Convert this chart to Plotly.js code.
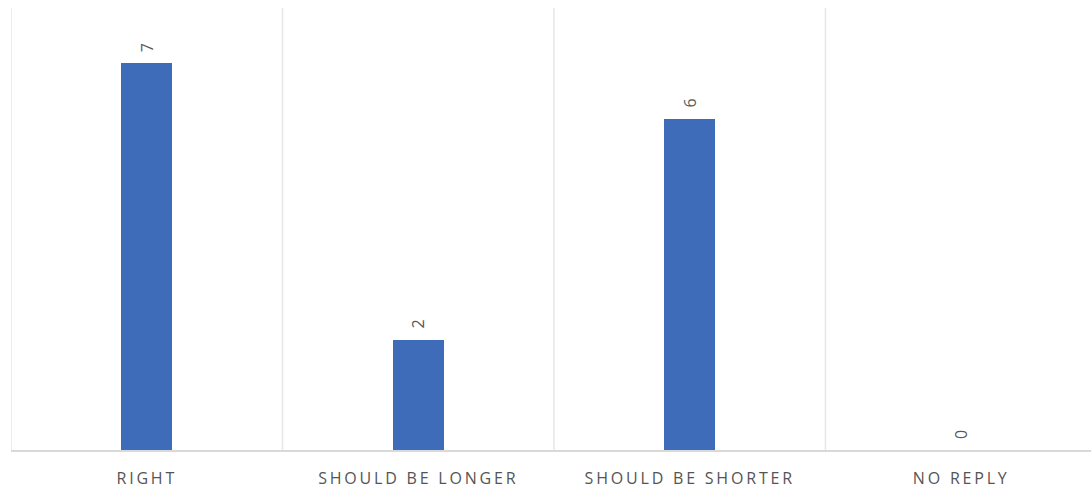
<!DOCTYPE html>
<html>
<head>
<meta charset="utf-8">
<script src="https://cdn.plot.ly/plotly-3.0.1.min.js"></script>
<style>
html,body{margin:0;padding:0;background:#fff;}
#chart{width:1091px;height:491px;}
</style>
</head>
<body>
<div id="chart"></div>
<script>
const categories = ["RIGHT", "SHOULD BE LONGER", "SHOULD BE SHORTER", "NO REPLY"];
const counts = [7, 2, 6, 0];
const dividerPositions = [-0.5, 0.5, 1.5, 2.5];

const trace = {
  type: "bar",
  x: categories,
  y: counts,
  texttemplate: "\u2002%{y}",
  textposition: "outside",
  textangle: -90,
  cliponaxis: false,
  textfont: {family: "Open Sans, sans-serif", size: 16, color: "#595959"},
  marker: {color: "#3e6cb8"},
  width: 0.188,
  hoverinfo: "x+y"
};

const shapes = dividerPositions.map(p => ({
  type: "line", xref: "x", yref: "y",
  x0: p, x1: p, y0: 0, y1: 8,
  line: {color: "#e6e6e6", width: 1.5},
  layer: "below"
}));

const layout = {
  width: 1091, height: 491,
  margin: {l: 11, r: 0, t: 8, b: 41},
  paper_bgcolor: "#ffffff",
  plot_bgcolor: "#ffffff",
  showlegend: false,
  bargap: 0,
  xaxis: {
    type: "category",
    range: [-0.5, 3.478],
    showgrid: false,
    showline: true,
    linecolor: "#d9d9d9",
    linewidth: 2,
    ticks: "",
    ticklabelstandoff: 13,
    tickfont: {family: "Open Sans, sans-serif", size: 16, color: "#555555"},
    fixedrange: true
  },
  yaxis: {
    range: [0, 8],
    showgrid: false,
    zeroline: false,
    showticklabels: false,
    ticks: "",
    fixedrange: true
  },
  shapes: shapes
};

Plotly.newPlot("chart", [trace], layout, {displayModeBar: false, staticPlot: true}).then(() => {
  document.querySelectorAll(".xtick text").forEach(t => {
    t.style.letterSpacing = "2.8px";
  });
});
</script>
</body>
</html>
